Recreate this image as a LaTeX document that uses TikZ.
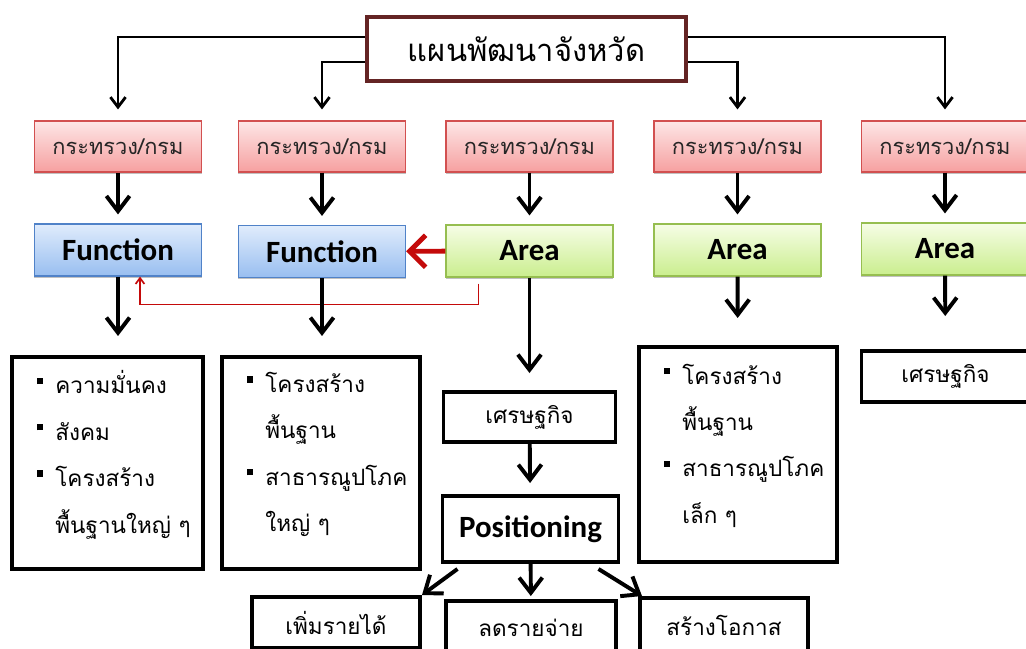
\documentclass[tikz,border=0pt]{standalone}
\usepackage{fontspec}
\setmainfont{Carlito}
\newfontfamily\thai[Script=Thai]{Loma}
\usetikzlibrary{arrows.meta,shadows}

\definecolor{framebrown}{RGB}{100,36,36}
\definecolor{pinktop}{RGB}{253,230,230}
\definecolor{pinkbot}{RGB}{246,160,160}
\definecolor{pinkline}{RGB}{210,80,80}
\definecolor{bluetop}{RGB}{224,236,252}
\definecolor{bluebot}{RGB}{152,190,240}
\definecolor{blueline}{RGB}{80,130,200}
\definecolor{greentop}{RGB}{246,253,230}
\definecolor{greenbot}{RGB}{202,238,142}
\definecolor{greenline}{RGB}{150,190,80}
\definecolor{linkred}{RGB}{196,10,10}

\newcommand{\bulitem}[1]{\mbox{\hspace*{0.225cm}\rule[0.85ex]{0.16cm}{0.16cm}\hspace{0.3cm}#1}}
\newcommand{\bulgap}[1]{\mbox{\hspace*{0.685cm}#1}\rule[-0.55cm]{0pt}{0pt}}

\begin{document}
\begin{tikzpicture}[x=0.025cm,y=-0.025cm,
	deptbox/.style={draw=pinkline,line width=0.8pt,top color=pinktop,bottom color=pinkbot,
		minimum width=4.175cm,minimum height=1.275cm,text=black!85,
		font=\thai\fontsize{15.5}{17}\selectfont,
		drop shadow={shadow xshift=0pt,shadow yshift=-1.2pt,fill=gray!70,opacity=0.7}},
	colbox/.style={line width=0.8pt,minimum width=4.175cm,minimum height=1.3cm,
		font=\bfseries\fontsize{22}{24}\selectfont,
		drop shadow={shadow xshift=0pt,shadow yshift=-1.2pt,fill=gray!70,opacity=0.7}},
	funcbox/.style={colbox,draw=blueline,top color=bluetop,bottom color=bluebot},
	areabox/.style={colbox,draw=greenline,top color=greentop,bottom color=greenbot},
	textbox/.style={draw,line width=2.8pt,fill=white,inner sep=0pt,
		font=\thai\fontsize{16}{18}\selectfont},
	listbox/.style={draw,line width=2.8pt,inner xsep=0.4cm,inner ysep=0pt,align=left,
		font=\thai\fontsize{16}{33}\selectfont},
	thinarrow/.style={line width=2pt,-{Straight Barb[length=0.25cm,width=0.38cm]},shorten >=0.275cm},
	fatarrow/.style={line width=2.8pt,-{Straight Barb[length=0.38cm,width=0.58cm]}},
	redarrow/.style={linkred,line width=3.5pt,-{Straight Barb[length=0.4cm,width=0.8cm]}},
	redlink/.style={linkred,line width=1.2pt,-{Straight Barb[length=0.15cm,width=0.22cm]}}]

	\useasboundingbox (0,0) rectangle (1026,649);

	% top plan
	\node[draw=framebrown,line width=2.8pt,minimum width=7.975cm,minimum height=1.6cm,
		font=\thai\fontsize{22}{24}\selectfont] (main) at (526.5,49) {แผนพัฒนาจังหวัด};

	% ministries and their function / area
	\foreach \i/\x in {1/118,2/322,3/529.5,4/737.5,5/945}
		\node[deptbox] (d\i) at (\x,146.5) {กระทรวง/กรม};

	\node[funcbox] (f1) at (118,250) {Function};
	\node[funcbox] (f2) at (322,251.5) {Function};
	\node[areabox] (a3) at (529.5,251) {Area};
	\node[areabox] (a4) at (737.5,250) {Area};
	\node[areabox] (a5) at (945,249) {Area};

	\draw[thinarrow] (main.west |- 0,37) -| (d1);
	\draw[thinarrow] (main.west |- 0,62) -| (d2);
	\draw[thinarrow] (main.east |- 0,62) -| (d4);
	\draw[thinarrow] (main.east |- 0,37) -| (d5);

	\foreach \i/\n in {1/f1,2/f2,3/a3,4/a4,5/a5}
		\draw[fatarrow,shorten >=0.225cm] (d\i) -- (\n);

	\draw[redarrow] (a3) -- (f2);
	\draw[redlink] ([shift={(-51,6)}]a3.south) -- ++(0,21) -| ([shift={(22,0)}]f1.south);

	% lists
	\node[listbox,text width=3.975cm,minimum height=5.3cm] (l1) at (107.5,463)
		{\bulitem{ความมั่นคง}\\ \bulitem{สังคม}\\ \bulitem{โครงสร้าง}\\ \bulgap{พื้นฐานใหญ่~ๆ}};
	\node[listbox,text width=4.15cm,minimum height=5.3cm] (l2) at (321,463)
		{\bulitem{โครงสร้าง}\\ \bulgap{พื้นฐาน}\\ \bulitem{สาธารณูปโภค}\\ \bulgap{ใหญ่~ๆ}};
	\node[listbox,text width=4.15cm,minimum height=5.375cm] (l4) at (738,454.5)
		{\bulitem{โครงสร้าง}\\ \bulgap{พื้นฐาน}\\ \bulitem{สาธารณูปโภค}\\ \bulgap{เล็ก~ๆ}};
	\node[textbox,minimum width=4.2cm,minimum height=1.275cm] (e5) at (945.5,376.5) {เศรษฐกิจ};

	\draw[fatarrow,shorten >=0.475cm] (f1) -- (f1 |- l1.north);
	\draw[fatarrow,shorten >=0.475cm] (f2) -- (f2 |- l2.north);
	\draw[fatarrow,shorten >=0.675cm] (a4) -- (l4);
	\draw[fatarrow,shorten >=0.825cm] (a5) -- (e5);

	% area chain
	\node[textbox,minimum width=4.3cm,minimum height=1.25cm] (eco) at (529.5,417) {เศรษฐกิจ};
	\node[textbox,minimum width=4.4cm,minimum height=1.65cm,
		font=\bfseries\fontsize{22}{24}\selectfont] (pos) at (530.5,529) {Positioning};
	\node[textbox,minimum width=4.2cm,minimum height=1.275cm] (inc) at (336,622.5) {เพิ่มรายได้};
	\node[textbox,minimum width=4.25cm,minimum height=1.35cm] (cut) at (531,628) {ลดรายจ่าย};
	\node[textbox,minimum width=4.2cm,minimum height=1.35cm] (opp) at (724,625) {สร้างโอกาส};

	\draw[fatarrow,shorten >=0.425cm] (a3) -- (eco);
	\draw[fatarrow,shorten >=0.275cm] (eco) -- (pos);
	\draw[fatarrow,shorten >=0.075cm] (pos) -- (cut);
	\draw[fatarrow] ([shift={(17,5)}]pos.south west) -- (inc.north east);
	\draw[fatarrow] ([shift={(-22,5)}]pos.south east) -- ([shift={(4,0)}]opp.north west);
\end{tikzpicture}
\end{document}
